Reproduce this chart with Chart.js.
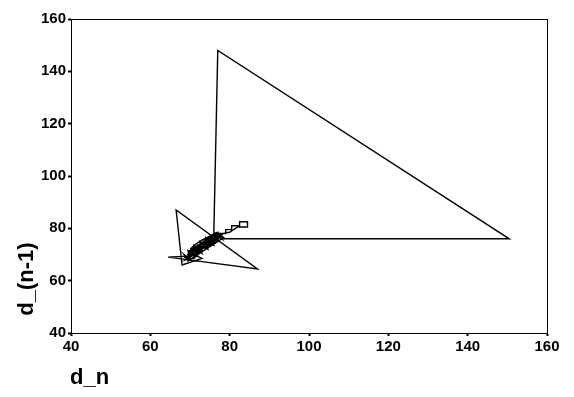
<!DOCTYPE html>
<html>
<head>
<meta charset="utf-8">
<script src="https://cdn.jsdelivr.net/npm/chart.js@4/dist/chart.umd.min.js"></script>
<style>
  html, body { margin: 0; padding: 0; background: #fff; }
  #wrap { width: 574px; height: 397px; }
</style>
</head>
<body>
<div id="wrap"><canvas id="phase"></canvas></div>
<script>
// return map: d_n against d_(n-1), points in time order
var dn = [73, 72, 74, 73, 75, 74.5, 76, 75, 77, 76, 78, 77.5, 79, 79, 80.5, 80.5, 82.5, 82.5, 84.5, 84.5,
  82, 80, 78, 77, 75.5, 74, 73, 71.5, 70.5, 69.5, 70, 69, 70.5, 64.5, 87, 66.5, 68, 73, 71, 72,
  71, 73, 72.5, 74, 74, 75.5, 75, 76.5, 76, 78.5, 150.5, 77, 76, 77, 75, 76, 74, 75, 73, 73.5,
  72, 72.5, 70.5, 71, 69.5, 70, 68.5, 71, 72, 74, 75.5, 77, 78, 76.5, 75, 73.5, 72, 70.5, 69.5, 71,
  73, 74.5, 76, 77.5, 76, 74, 72.5, 71,
  70, 71.5, 71, 73, 72, 74.5, 73.5, 76, 75, 77, 76.5, 78, 77, 75.5, 76, 74, 74.5, 72.5, 73, 71,
  71.5, 69.5, 70, 68.5, 69.5, 71, 72.5, 74, 75.5, 77, 78.5, 77, 75, 73, 71.5, 70];
var dnPrev = [72, 73, 72.5, 74, 73.5, 75, 74.5, 76, 75.5, 77, 77, 78, 78, 79.5, 79.5, 81, 81, 82.5, 82.5, 80.5,
  80.5, 78.5, 78, 76.5, 76, 74.5, 73, 72, 70.5, 69.5, 68.5, 68, 69.5, 69, 64.5, 87, 66, 68.5, 70, 71,
  71.5, 71.5, 73, 73, 74.5, 74.5, 76, 75.5, 77, 76, 76, 148, 77.5, 76, 76.5, 75, 75.5, 74, 74, 72.5,
  72.5, 71, 71.5, 70, 70, 68.5, 69, 68.5, 70.5, 72, 74, 76, 77.5, 77.5, 76, 74.5, 73, 71.5, 70, 69.5,
  72, 73.5, 75, 76.5, 77.5, 75.5, 74, 72.5,
  71.5, 69.5, 72.5, 70.5, 73.5, 72, 75, 73.5, 76.5, 75, 78, 76, 78.5, 77.5, 75, 76.5, 73, 75, 71.5, 73.5,
  70, 71.5, 68, 70, 67.5, 69, 70.5, 72, 73.5, 75, 76.5, 78, 77, 75.5, 74, 72];
var axisTicks = [40, 60, 80, 100, 120, 140, 160];
var xTitle = 'd_n';
var yTitle = 'd_(n-1)';

var points = [];
for (var i = 0; i < dn.length; i++) {
  points.push({ x: dn[i], y: dnPrev[i] });
}

var tickFont = { family: "'Liberation Sans', Arial, sans-serif", size: 15, weight: 'bold' };

// frame round the plot and the two axis titles
var framePlugin = {
  id: 'frame',
  afterDraw: function(chart) {
    var ctx = chart.ctx, a = chart.chartArea;
    ctx.save();
    ctx.strokeStyle = '#000';
    ctx.lineWidth = 1;
    ctx.strokeRect(a.left + 0.5, a.top + 0.5, a.right - a.left, a.bottom - a.top);
    ctx.fillStyle = '#000';
    ctx.font = "bold 22px 'Liberation Sans', Arial, sans-serif";
    ctx.textAlign = 'left';
    ctx.textBaseline = 'alphabetic';
    ctx.fillText(xTitle, 70, 384);
    ctx.translate(33, 279);
    ctx.rotate(-Math.PI / 2);
    ctx.textAlign = 'center';
    ctx.fillText(yTitle, 0, 0);
    ctx.restore();
  }
};

function axis(fit) {
  return {
    type: 'linear',
    min: 40,
    max: 160,
    afterBuildTicks: function(scale) {
      scale.ticks = axisTicks.map(function(v) { return { value: v }; });
    },
    afterFit: fit,
    grid: { display: true, drawOnChartArea: false, drawTicks: true, tickLength: 3, tickWidth: 2, color: '#000' },
    border: { display: true, color: '#000', width: 1 },
    ticks: { color: '#000', font: tickFont, padding: 2, autoSkip: false, maxRotation: 0 }
  };
}

new Chart(document.getElementById('phase'), {
  type: 'scatter',
  data: {
    datasets: [{
      data: points,
      showLine: true,
      borderColor: '#000',
      borderWidth: 1.4,
      pointRadius: 0,
      tension: 0,
      fill: false
    }]
  },
  options: {
    responsive: true,
    maintainAspectRatio: false,
    animation: false,
    layout: { padding: { top: 19, right: 27, left: 0, bottom: 0 } },
    plugins: { legend: { display: false }, tooltip: { enabled: false } },
    scales: {
      x: axis(function(s) { s.height = 64; }),
      y: axis(function(s) { s.width = 71; })
    }
  },
  plugins: [framePlugin]
});
</script>
</body>
</html>
